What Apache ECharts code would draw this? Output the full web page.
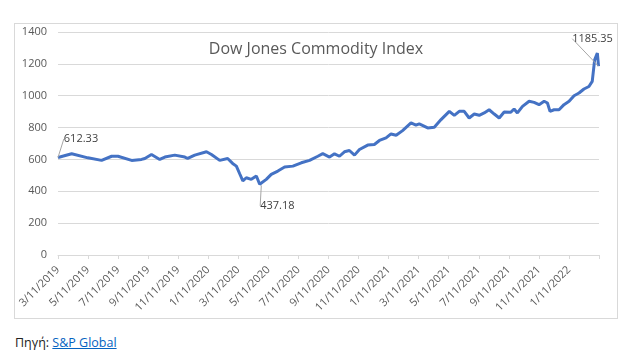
<!DOCTYPE html>
<html>
<head>
<meta charset="utf-8">
<script src="https://cdn.jsdelivr.net/npm/echarts@6/dist/echarts.min.js"></script>
<style>
  html, body { margin: 0; padding: 0; background: #fff; width: 643px; height: 355px; overflow: hidden; }
  #chart { position: absolute; left: 14px; top: 23px; width: 604px; height: 296px; border: 1px solid #d9d9d9; box-sizing: border-box; }
  #src { position: absolute; left: 15px; top: 334px; font-family: "Open Sans", sans-serif; font-size: 12.5px; color: #222; }
  #src a { color: #0563C1; text-decoration: underline; }
</style>
</head>
<body>
<div id="chart"></div>
<div id="src">Πηγή: <a href="#">S&amp;P Global</a></div>
<script>
// months elapsed since 3/11/2019
const monthOffsets = [0, 0.91, 1.99, 2.90, 3.57, 3.99, 4.90, 5.56, 5.78, 6.22, 6.77, 7.11, 7.77, 8.44, 8.63, 9.10, 9.88, 10.21, 10.76, 11.29, 11.62, 11.87, 11.98, 12.09, 12.30, 12.53, 12.86, 13.20, 13.42, 13.53, 13.86, 14.19, 14.63, 15.08, 15.63, 16.19, 16.74, 17.29, 17.62, 18.07, 18.40, 18.73, 19.06, 19.39, 19.73, 20.06, 20.61, 21.05, 21.39, 21.83, 22.16, 22.50, 22.93, 23.49, 23.82, 24.04, 24.60, 25.04, 25.49, 26.04, 26.37, 26.70, 27.03, 27.36, 27.70, 28.03, 28.36, 28.69, 29.03, 29.36, 29.69, 30.13, 30.35, 30.57, 30.91, 31.35, 31.68, 32.01, 32.35, 32.57, 32.74, 33.01, 33.34, 33.67, 34.01, 34.34, 34.67, 35.00, 35.33, 35.55, 35.71, 35.89, 35.97];
const indexValues = [612.33, 636, 610, 594, 620, 620, 594, 600, 606, 631, 600, 615, 627, 615, 606, 627, 648, 631, 594, 606, 575, 558, 548, 510, 465, 485, 475, 496, 444, 437.18, 475, 506, 527, 552, 558, 579, 594, 620, 636, 615, 635, 620, 648, 656, 627, 662, 690, 694, 719, 735, 760, 752, 781, 829, 815, 823, 798, 802, 850, 902, 877, 902, 902, 860, 885, 877, 892, 912, 885, 860, 898, 896, 917, 892, 933, 965, 958, 944, 965, 954, 902, 912, 912, 944, 965, 1000, 1017, 1042, 1058, 1090, 1225, 1267, 1185.35];
const xTickLabels = ['3/11/2019', '5/11/2019', '7/11/2019', '9/11/2019', '11/11/2019', '1/11/2020', '3/11/2020', '5/11/2020', '7/11/2020', '9/11/2020', '11/11/2020', '1/11/2021', '3/11/2021', '5/11/2021', '7/11/2021', '9/11/2021', '11/11/2021', '1/11/2022', ''];
const annotatedIndices = [0, 29, indexValues.length - 1];
const annotationShift = { 0: [23, -8], 29: [16, 10], [indexValues.length - 1]: [-6, -17] };

const chart = echarts.init(document.getElementById('chart'));
const seriesData = monthOffsets.map((m, i) => {
  const item = { value: [m, indexValues[i]] };
  if (annotatedIndices.includes(i)) {
    item.label = { show: true, position: i === 29 ? 'bottom' : 'top', formatter: String(indexValues[i]) };
    item.labelLine = { show: true };
  }
  return item;
});

chart.setOption({
  animation: false,
  title: {
    text: 'Dow Jones Commodity Index',
    left: 'center',
    top: 12,
    textStyle: { fontFamily: 'Open Sans', fontSize: 16, fontWeight: 'normal', color: '#595959' }
  },
  grid: { left: 43, right: 18, top: 8, bottom: 63 },
  xAxis: {
    type: 'value',
    min: 0,
    max: 36,
    interval: 2,
    splitLine: { show: false },
    axisLine: { lineStyle: { color: '#d9d9d9' } },
    axisTick: { show: true, length: 4, lineStyle: { color: '#d9d9d9' } },
    axisLabel: {
      rotate: 45,
      margin: 13,
      fontFamily: 'Open Sans',
      fontSize: 11,
      color: '#595959',
      showMaxLabel: true,
      formatter: v => xTickLabels[Math.round(v / 2)] || ''
    }
  },
  yAxis: {
    type: 'value',
    min: 0,
    max: 1400,
    interval: 200,
    axisLine: { show: false },
    axisTick: { show: false },
    splitLine: { lineStyle: { color: '#d9d9d9' } },
    axisLabel: { margin: 11, fontFamily: 'Open Sans', fontSize: 11, color: '#595959', formatter: v => String(v) }
  },
  series: [{
    type: 'line',
    data: seriesData,
    showSymbol: true,
    symbol: 'circle',
    symbolSize: 0,
    lineStyle: { color: '#4472C4', width: 3 },
    itemStyle: { color: '#4472C4' },
    label: { fontFamily: 'Open Sans', fontSize: 11, color: '#404040' },
    labelLine: { lineStyle: { color: '#a6a6a6', width: 1 } },
    labelLayout: p => {
      const s = annotationShift[p.dataIndex];
      return s ? { dx: s[0], dy: s[1] } : {};
    }
  }]
});
</script>
</body>
</html>
